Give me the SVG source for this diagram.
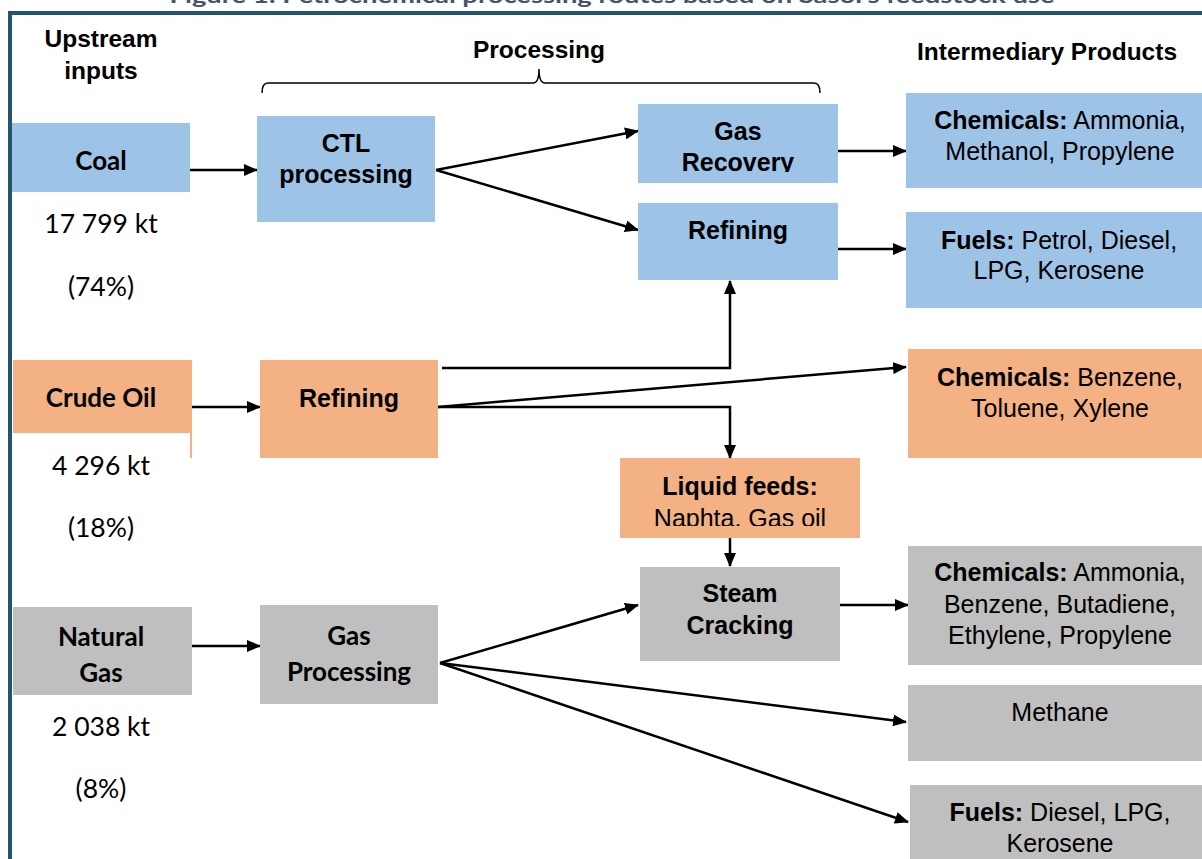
<svg xmlns="http://www.w3.org/2000/svg" width="1202" height="859" viewBox="0 0 1202 859">
<defs>
<marker id="ah" markerWidth="14" markerHeight="12" refX="13" refY="6" orient="auto" markerUnits="userSpaceOnUse">
<path d="M0,0 L14,6 L0,12 Z" fill="#000"/>
</marker>
<clipPath id="clipGR"><rect x="638" y="104" width="200" height="68"/></clipPath>
<clipPath id="clipLF"><rect x="620" y="458" width="240" height="68"/></clipPath>
</defs>
<style>
.blue{fill:#9DC3E6}
.orange{fill:#F4B183}
.gray{fill:#BFBFBF}
.ar{font-family:"Liberation Sans",Arial,sans-serif;fill:#000;text-anchor:middle}
.arb{font-family:"Liberation Sans",Arial,sans-serif;font-weight:bold;fill:#000;text-anchor:middle}
.cal{font-family:Lato,"Open Sans",sans-serif;fill:#000;text-anchor:middle}
.calb{font-family:Lato,"Open Sans",sans-serif;font-weight:bold;fill:#000;text-anchor:middle;font-size:26px}
.hdr{font-family:"Liberation Sans",Arial,sans-serif;font-weight:bold;font-size:24.5px;fill:#000;text-anchor:middle}
.box{font-size:25px}
.prod{font-size:25px}
.num{font-size:26.5px}
.conn{stroke:#000;stroke-width:2.5;fill:none}
</style>
<rect width="1202" height="859" fill="#fff"/>
<g id="title">
<text x="612" y="3" font-family="Lato,'Open Sans',sans-serif" font-weight="bold" font-size="21" fill="#44546A" text-anchor="middle" textLength="885" lengthAdjust="spacingAndGlyphs">Figure 1: Petrochemical processing routes based on Sasol's feedstock use</text>
</g>
<g id="frame">
<rect x="8" y="11" width="1194" height="4" fill="#24546C"/>
<rect x="8" y="11" width="4" height="848" fill="#24546C"/>
</g>
<g id="headers">
<text class="hdr" x="101" y="47">Upstream</text>
<text class="hdr" x="101" y="79">inputs</text>
<text class="hdr" x="539" y="58">Processing</text>
<text class="hdr" x="1047" y="60">Intermediary Products</text>
<path d="M262,93 Q262,83 268,83 L533,83 Q539,83 539,69 Q539,83 545,83 L814,83 Q820,83 820,93" fill="none" stroke="#000" stroke-width="1.5"/>
</g>
<g id="connectors">
<line class="conn" x1="190" y1="170" x2="257" y2="170" marker-end="url(#ah)"/>
<line class="conn" x1="436" y1="170" x2="638" y2="131" marker-end="url(#ah)"/>
<line class="conn" x1="436" y1="170" x2="638" y2="230" marker-end="url(#ah)"/>
<line class="conn" x1="838" y1="151" x2="906" y2="151" marker-end="url(#ah)"/>
<line class="conn" x1="838" y1="249" x2="906" y2="249" marker-end="url(#ah)"/>
<line class="conn" x1="187" y1="407" x2="260" y2="407" marker-end="url(#ah)"/>
<polyline class="conn" points="442,368 730,368 730,281" marker-end="url(#ah)"/>
<line class="conn" x1="438" y1="407" x2="906" y2="367" marker-end="url(#ah)"/>
<polyline class="conn" points="438,407 730,407 730,458" marker-end="url(#ah)"/>
<line class="conn" x1="730" y1="538" x2="730" y2="566" marker-end="url(#ah)"/>
<line class="conn" x1="192" y1="646" x2="260" y2="646" marker-end="url(#ah)"/>
<line class="conn" x1="440" y1="663" x2="638" y2="605" marker-end="url(#ah)"/>
<line class="conn" x1="840" y1="605" x2="908" y2="605" marker-end="url(#ah)"/>
<line class="conn" x1="440" y1="663" x2="906" y2="722" marker-end="url(#ah)"/>
<line class="conn" x1="440" y1="663" x2="908" y2="822" marker-end="url(#ah)"/>
</g>
<g id="coal">
<rect class="blue" x="12" y="123" width="178" height="69"/>
<text class="calb" x="101" y="170">Coal</text>
<text class="cal num" x="101" y="233">17 799 kt</text>
<text class="cal num" x="101" y="296">(74%)</text>
</g>
<g id="ctl">
<rect class="blue" x="257" y="116" width="178" height="106"/>
<text class="arb box" x="346" y="152">CTL</text>
<text class="arb box" x="346" y="183">processing</text>
</g>
<g id="gas-recovery">
<rect class="blue" x="638" y="104" width="200" height="79"/>
<g clip-path="url(#clipGR)">
<text class="arb box" x="738" y="140">Gas</text>
<text class="arb box" x="738" y="171">Recovery</text>
</g>
</g>
<g id="refining-blue">
<rect class="blue" x="638" y="203" width="200" height="77"/>
<text class="arb box" x="738" y="239">Refining</text>
</g>
<g id="chem-blue">
<rect class="blue" x="906" y="93" width="296" height="95"/>
<text class="ar prod" x="1060" y="129"><tspan font-weight="bold">Chemicals:</tspan> Ammonia,</text>
<text class="ar prod" x="1060" y="160">Methanol, Propylene</text>
</g>
<g id="fuels-blue">
<rect class="blue" x="906" y="212" width="296" height="96"/>
<text class="ar prod" x="1059" y="249"><tspan font-weight="bold">Fuels:</tspan> Petrol, Diesel,</text>
<text class="ar prod" x="1059" y="279">LPG, Kerosene</text>
</g>
<g id="crude-oil">
<rect class="orange" x="13" y="360" width="179" height="73"/>
<rect class="orange" x="190" y="433" width="2" height="25"/>
<text class="calb" x="101" y="407">Crude Oil</text>
<text class="cal num" x="101" y="475">4 296 kt</text>
<text class="cal num" x="101" y="537">(18%)</text>
</g>
<g id="refining-orange">
<rect class="orange" x="260" y="360" width="178" height="98"/>
<text class="arb box" x="349" y="407">Refining</text>
</g>
<g id="chem-orange">
<rect class="orange" x="908" y="349" width="294" height="109"/>
<text class="ar prod" x="1060" y="386"><tspan font-weight="bold">Chemicals:</tspan> Benzene,</text>
<text class="ar prod" x="1060" y="417">Toluene, Xylene</text>
</g>
<g id="liquid-feeds">
<rect class="orange" x="620" y="458" width="240" height="80"/>
<g clip-path="url(#clipLF)">
<text class="arb box" x="740" y="495">Liquid feeds:</text>
<text class="ar box" x="740" y="527">Naphta, Gas oil</text>
</g>
</g>
<g id="steam-cracking">
<rect class="gray" x="640" y="567" width="200" height="94"/>
<text class="arb box" x="740" y="602">Steam</text>
<text class="arb box" x="740" y="634">Cracking</text>
</g>
<g id="natural-gas">
<rect class="gray" x="13" y="607" width="179" height="88"/>
<text class="calb" x="101" y="646">Natural</text>
<text class="calb" x="101" y="682">Gas</text>
<text class="cal num" x="101" y="736">2 038 kt</text>
<text class="cal num" x="101" y="798">(8%)</text>
</g>
<g id="gas-processing">
<rect class="gray" x="260" y="605" width="178" height="99"/>
<text class="calb" x="349" y="645">Gas</text>
<text class="calb" x="349" y="681">Processing</text>
</g>
<g id="chem-gray">
<rect class="gray" x="908" y="546" width="294" height="119"/>
<text class="ar prod" x="1060" y="581"><tspan font-weight="bold">Chemicals:</tspan> Ammonia,</text>
<text class="ar prod" x="1060" y="613">Benzene, Butadiene,</text>
<text class="ar prod" x="1060" y="644">Ethylene, Propylene</text>
</g>
<g id="methane">
<rect class="gray" x="908" y="685" width="294" height="76"/>
<text class="ar prod" x="1060" y="721">Methane</text>
</g>
<g id="fuels-gray">
<rect class="gray" x="910" y="785" width="292" height="74"/>
<text class="ar prod" x="1060" y="821"><tspan font-weight="bold">Fuels:</tspan> Diesel, LPG,</text>
<text class="ar prod" x="1060" y="852">Kerosene</text>
</g>
</svg>
